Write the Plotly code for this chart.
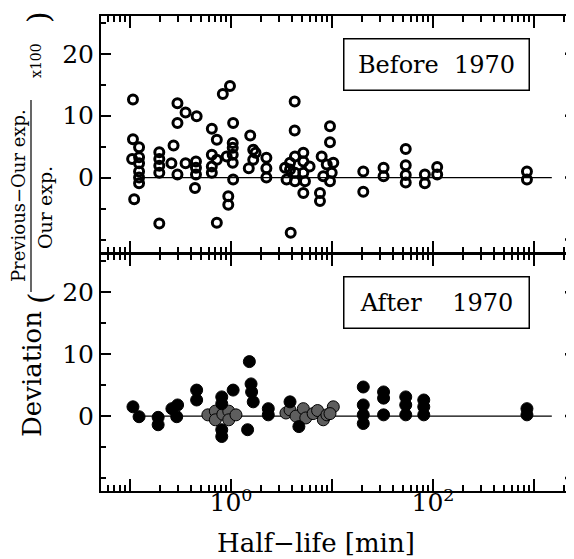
import plotly.graph_objects as go

# Half-life [min] and deviation [%]
BEFORE_T = [0.107, 0.107, 0.105, 0.110, 0.123, 0.123, 0.123, 0.123, 0.123, 0.123,
            0.195, 0.195, 0.195, 0.195, 0.195, 0.27, 0.257, 0.295, 0.295, 0.295,
            0.355, 0.355, 0.457, 0.45, 0.45, 0.45, 0.44, 0.646, 0.646, 0.646,
            0.646, 0.724, 0.724, 0.724, 0.83, 0.906, 0.977, 1.05, 1.04, 1.04,
            1.04, 1.04, 1.05, 0.94, 0.94, 1.55, 1.66, 1.75, 1.5, 1.66,
            2.24, 2.24, 2.24, 4.27, 4.27, 3.9, 3.43, 3.55, 3.84, 3.84,
            4.3, 4.3, 4.3, 5.2, 5.2, 5.2, 5.4, 5.2, 6.0, 7.9,
            8.87, 10.3, 9.93, 8.2, 9.55, 7.6, 7.6, 9.55, 9.55, 20.4,
            20.4, 32.4, 32.4, 53.7, 53.7, 53.7, 53.7, 83, 83, 110,
            110, 851, 851]
BEFORE_DEV = [12.6, 6.2, 3.0, -3.5, 4.9, 3.3, 2.3, 1.0, 0.0, -0.9,
              4.1, 3.0, 1.9, 0.8, -7.4, 5.2, 2.3, 12.0, 8.8, 0.5,
              10.5, 2.3, 9.9, 2.6, 1.6, 0.5, -1.7, 7.9, 3.7, 1.8,
              0.8, 6.1, 2.9, -7.3, 13.5, 3.4, 14.8, 8.8, 5.6, 4.8,
              3.7, 2.4, -0.3, -3.0, -4.4, 6.8, 4.5, 4.0, 1.5, 2.9,
              3.2, 1.5, 0.0, 12.3, 7.6, -8.9, 1.6, -0.3, 2.4, 1.3,
              3.4, 0.8, -0.6, 4.0, 2.6, 0.8, -0.6, -2.5, 1.8, 3.4,
              2.1, 2.4, 0.8, 0.2, -0.6, -2.5, -3.8, 8.3, 5.7, 1.0,
              -2.3, 1.6, 0.2, 4.6, 2.0, 0.4, -0.8, 0.5, -0.9, 1.7,
              0.5, 1.0, -0.3]

AFTER_T = [0.107, 0.123, 0.19, 0.19, 0.26, 0.296, 0.29, 0.457, 0.457, 0.81,
           0.81, 0.81, 0.81, 1.05, 1.52, 1.58, 1.6, 1.66, 1.46, 2.34,
           2.34, 3.84, 4.7, 20.4, 20.4, 20.4, 20.4, 32.4, 32.4, 32.4,
           53.7, 53.7, 53.7, 81, 81, 81, 851, 851]
AFTER_DEV = [1.5, -0.1, -0.2, -1.4, 1.2, 1.8, -0.1, 4.2, 2.6, 3.1,
             2.0, -2.2, -3.3, 4.2, 8.8, 5.2, 3.9, 2.3, -2.2, 1.2,
             0.2, 2.3, -1.7, 4.7, 1.8, 0.2, -1.2, 3.9, 2.9, 0.2,
             3.1, 1.8, 0.2, 2.6, 1.5, 0.2, 1.2, 0.2]

# hatched (overlapping) points of the lower panel
HATCH_T = [0.59, 0.70, 0.70, 0.83, 0.95, 0.95, 1.12, 3.5, 3.84, 4.4,
           5.2, 5.5, 6.5, 7.2, 8.2, 8.9, 10.3, 9.55]
HATCH_DEV = [0.2, 0.8, -0.6, 0.3, 0.8, -0.6, 0.2, 0.5, 1.0, 0.0,
             1.2, -0.3, 0.4, 0.9, -0.6, 0.2, 1.5, 0.4]

ZERO_X = [0.125, 1500]
ZERO_Y = [0, 0]

X_MAJOR = [0.1, 1, 10, 100, 1000]
X_MAJOR_TEXT = ["", "10<sup>0</sup>", "", "10<sup>2</sup>", ""]
X_MINOR = [m * 10.0 ** d for d in range(-2, 4) for m in range(2, 10)]
Y_MAJOR = [0, 10, 20]
Y_MINOR = [-10, -5, 5, 15, 25]
Y_RIGHT = [-10, 0, 10, 20]
Y_RANGE = [-12.1, 26.1]

FONT = "DejaVu Serif"

fig = go.Figure()

# lower panel: after 1970
fig.add_trace(go.Scatter(x=ZERO_X, y=ZERO_Y, mode="lines", xaxis="x", yaxis="y",
                         line=dict(color="black", width=1.3)))
fig.add_trace(go.Scatter(x=HATCH_T, y=HATCH_DEV, mode="markers", xaxis="x", yaxis="y",
                         marker=dict(symbol="circle", size=12, color="#5e5e5e",
                                     line=dict(color="black", width=1))))
fig.add_trace(go.Scatter(x=AFTER_T, y=AFTER_DEV, mode="markers", xaxis="x", yaxis="y",
                         marker=dict(symbol="circle", size=12, color="black",
                                     line=dict(color="black", width=1))))

# upper panel: before 1970
fig.add_trace(go.Scatter(x=ZERO_X, y=ZERO_Y, mode="lines", xaxis="x2", yaxis="y2",
                         line=dict(color="black", width=1.3)))
fig.add_trace(go.Scatter(x=BEFORE_T, y=BEFORE_DEV, mode="markers", xaxis="x2", yaxis="y2",
                         marker=dict(symbol="circle-open", size=9, color="black",
                                     line=dict(color="black", width=3))))

xax = dict(type="log", range=[-1.287, 3.376], showgrid=False, zeroline=False,
           showline=True, linecolor="black", linewidth=2, mirror="allticks",
           ticks="inside", ticklen=12, tickwidth=1.5, tickcolor="black",
           tickmode="array", tickvals=X_MAJOR, ticktext=X_MAJOR_TEXT,
           minor=dict(tickmode="array", tickvals=X_MINOR, ticks="inside",
                      ticklen=6, tickwidth=1.5, tickcolor="black", showgrid=False),
           tickfont=dict(family=FONT, size=25, color="black"))
yax = dict(range=Y_RANGE, showgrid=False, zeroline=False,
           showline=True, linecolor="black", linewidth=2,
           ticks="inside", ticklen=10, tickwidth=1.5, tickcolor="black",
           tickmode="array", tickvals=Y_MAJOR,
           minor=dict(tickmode="array", tickvals=Y_MINOR, ticks="inside",
                      ticklen=5, tickwidth=1.5, tickcolor="black", showgrid=False),
           tickfont=dict(family=FONT, size=25, color="black"))

# the page body adds an 8px margin, so the figure is 8px smaller than the window
fig.update_layout(
    width=566, height=551,
    margin=dict(l=93, r=2, t=8, b=68),
    paper_bgcolor="white", plot_bgcolor="white",
    showlegend=False,
    xaxis=dict(xax, anchor="y", ticklabelstandoff=-12),
    xaxis2=dict(xax, anchor="y2", showticklabels=False),
    yaxis=dict(yax, domain=[0, 0.4979], anchor="x"),
    yaxis2=dict(yax, domain=[0.5021, 1], anchor="x2"),
)


def px(x, y):
    # reference pixel -> paper coords (plot area spans x 101..572, y 16..491)
    return (x - 101) / 471, (491 - y) / 475


# short tick dashes along the (unseen) right edge of both panels
rx0, _ = px(565, 0)
for yref in ("y", "y2"):
    for v in Y_RIGHT:
        fig.add_shape(type="line", xref="paper", yref=yref, x0=rx0, x1=1.0,
                      y0=v, y1=v, line=dict(color="black", width=2.5))


def label(text, x, y, size, **kw):
    ax_, ay_ = px(x, y)
    fig.add_annotation(text=text, x=ax_, y=ay_, xref="paper", yref="paper",
                       xanchor="center", yanchor="middle", showarrow=False,
                       font=dict(family=FONT, size=size, color="black"), **kw)


box = dict(width=180, height=46, bordercolor="black", borderwidth=1.5,
           borderpad=2, bgcolor="white")
label("Before  1970", 436, 64.5, 24, **box)
label("After    1970", 436, 302, 24, **box)

label("Half\u2212life [min]", 316, 543, 26)

# y title: Deviation ( (Previous-Our exp.)/(Our exp.) x100 )
ylabel_parts = [
    ("Deviation", 32, 374, 26),
    ("(", 39, 298, 30),
    ("Previous\u2212Our exp.", 19, 196, 18),
    ("Our exp.", 45, 208, 19),
    ("x100", 36, 61, 14),
    (")", 39, 17, 30),
]
for text, x, y, size in ylabel_parts:
    label(text, x, y, size, textangle=-90)

lx, ly0 = px(31, 100)
_, ly1 = px(31, 292)
fig.add_shape(type="line", xref="paper", yref="paper", x0=lx, x1=lx, y0=ly0, y1=ly1,
              line=dict(color="black", width=1.2))

# no scrollbars: the page is exactly the window size
fig.write_html("out.html",
               post_script="document.documentElement.style.overflow='hidden';"
                           "document.body.style.overflow='hidden';")
